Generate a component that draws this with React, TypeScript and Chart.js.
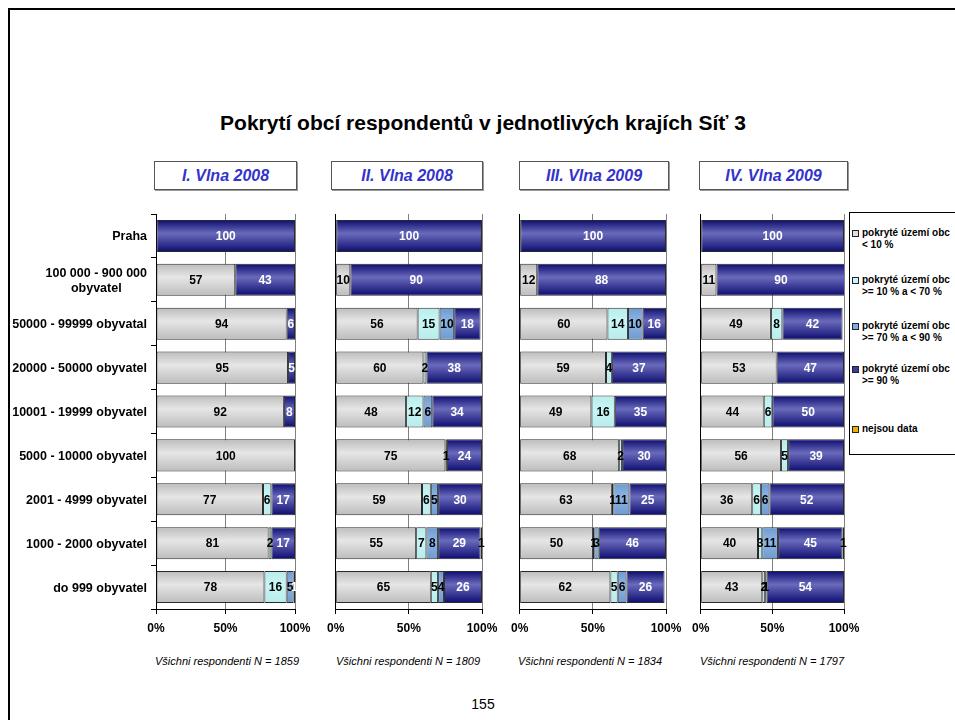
import React, { useEffect, useRef } from 'react';
import { Chart, registerables } from 'chart.js';
Chart.register(...registerables);

const FONT = '"Liberation Sans", Arial, Helvetica, sans-serif';

const mainTitle = 'Pokrytí obcí respondentů v jednotlivých krajích Síť 3';
const pageNumber = '155';

const categories = [
  'Praha',
  '100 000 - 900 000\nobyvatel',
  '50000 - 99999 obyvatal',
  '20000 - 50000 obyvatel',
  '10001 - 19999 obyvatel',
  '5000 - 10000 obyvatel',
  '2001 - 4999 obyvatel',
  '1000 - 2000 obyvatel',
  'do 999 obyvatel',
];

const waveTitles = ['I. Vlna 2008', 'II. Vlna 2008', 'III. Vlna 2009', 'IV. Vlna 2009'];
const respondentsN = [1859, 1809, 1834, 1797];

const legendLabels = [
  ['pokryté území obc', '< 10 %'],
  ['pokryté území obc', '>= 10 % a < 70 %'],
  ['pokryté území obc', '>= 70 % a < 90 %'],
  ['pokryté území obc', '>= 90 %'],
  ['nejsou data'],
];

const xTicks = [0, 50, 100];

// Wave I 2008
const w1Lt10 = [0, 57, 94, 95, 92, 100, 77, 81, 78];
const w1From10 = [0, 0, 0, 0, 0, 0, 6, 2, 16];
const w1From70 = [0, 0, 0, 0, 0, 0, 0, 0, 5];
const w1Ge90 = [100, 43, 6, 5, 8, 0, 17, 17, 1];
const w1NoData = [0, 0, 0, 0, 0, 0, 0, 0, 0];

// Wave II 2008
const w2Lt10 = [0, 10, 56, 60, 48, 75, 59, 55, 65];
const w2From10 = [0, 0, 15, 2, 12, 0, 6, 7, 5];
const w2From70 = [0, 0, 10, 0, 6, 1, 5, 8, 4];
const w2Ge90 = [100, 90, 18, 38, 34, 24, 30, 29, 26];
const w2NoData = [0, 0, 0, 0, 0, 0, 0, 1, 0];

// Wave III 2009
const w3Lt10 = [0, 12, 60, 59, 49, 68, 63, 50, 62];
const w3From10 = [0, 0, 14, 4, 16, 2, 1, 1, 5];
const w3From70 = [0, 0, 10, 0, 0, 0, 11, 3, 6];
const w3Ge90 = [100, 88, 16, 37, 35, 30, 25, 46, 26];
const w3NoData = [0, 0, 0, 0, 0, 0, 0, 0, 0];

// Wave IV 2009
const w4Lt10 = [0, 11, 49, 53, 44, 56, 36, 40, 43];
const w4From10 = [0, 0, 8, 0, 6, 5, 6, 3, 2];
const w4From70 = [0, 0, 0, 0, 0, 0, 6, 11, 1];
const w4Ge90 = [100, 90, 42, 47, 50, 39, 52, 45, 54];
const w4NoData = [0, 0, 0, 0, 0, 0, 0, 1, 0];

const waveSeries = [
  [w1Lt10, w1From10, w1From70, w1Ge90, w1NoData],
  [w2Lt10, w2From10, w2From70, w2Ge90, w2NoData],
  [w3Lt10, w3From10, w3From70, w3Ge90, w3NoData],
  [w4Lt10, w4From10, w4From70, w4Ge90, w4NoData],
];

// colour stops: [edge, centre]
const seriesFill = [
  ['#bcbcbc', '#e6e6e6'],
  ['#b8ecec', '#c8f6f6'],
  ['#6e9ad0', '#8cb6e4'],
  ['#0c0c70', '#6a6abc'],
  ['#700000', '#c02000'],
];
const legendColors = ['#e0e0e0', '#c8f6f6', '#80aee2', '#3a3aa0', '#e8b000'];
const labelColors = ['#000', '#000', '#000', '#fff', '#000'];

const BAR_PCT = 0.73;

function makeFill(si: number) {
  return (ctx: any) => {
    const [edge, mid] = seriesFill[si];
    const chart = ctx.chart;
    const area = chart.chartArea;
    if (!area || ctx.type !== 'data' || !chart.scales.y) return mid;
    const yScale = chart.scales.y;
    const c = yScale.getPixelForValue(ctx.dataIndex);
    const band = (area.bottom - area.top) / categories.length;
    const h = (band * BAR_PCT) / 2;
    const g = chart.ctx.createLinearGradient(0, c - h, 0, c + h);
    g.addColorStop(0, edge);
    g.addColorStop(0.42, mid);
    g.addColorStop(1, edge);
    return g;
  };
}

const valueLabelPlugin = {
  id: 'valueLabels',
  afterDatasetsDraw(chart: any) {
    const ctx = chart.ctx;
    ctx.save();
    ctx.font = `bold 12px ${FONT}`;
    ctx.textAlign = 'center';
    ctx.textBaseline = 'middle';
    chart.data.datasets.forEach((ds: any, di: number) => {
      const meta = chart.getDatasetMeta(di);
      meta.data.forEach((el: any, i: number) => {
        const v = ds.data[i];
        if (!v) return;
        const p = el.getProps(['x', 'y', 'base'], true);
        ctx.fillStyle = labelColors[di];
        ctx.fillText(String(v), (p.x + p.base) / 2, p.y + 1);
      });
    });
    ctx.restore();
  },
};

const categoryLabelPlugin = {
  id: 'categoryLabels',
  afterDraw(chart: any) {
    const ctx = chart.ctx;
    const yScale = chart.scales.y;
    const right = chart.chartArea.left - 9;
    ctx.save();
    ctx.font = `bold 12.5px ${FONT}`;
    ctx.fillStyle = '#000';
    ctx.textBaseline = 'middle';
    ctx.textAlign = 'center';
    categories.forEach((lab, i) => {
      const yc = yScale.getPixelForValue(i);
      const lines = lab.split('\n');
      const mw = Math.max(...lines.map((l) => ctx.measureText(l).width));
      lines.forEach((l, k) => {
        ctx.fillText(l, right - mw / 2, yc + 1 + (k - (lines.length - 1) / 2) * 15);
      });
    });
    ctx.restore();
  },
};

type PanelProps = {
  wave: number;
  left: number;
  width: number;
  yWidth: number;
  showCategories: boolean;
};

function Panel({ wave, left, width, yWidth, showCategories }: PanelProps) {
  const ref = useRef<HTMLCanvasElement>(null);
  useEffect(() => {
    if (!ref.current) return;
    const series = waveSeries[wave];
    const chart = new Chart(ref.current, {
      type: 'bar',
      data: {
        labels: categories.map((c) => c.replace('\n', ' ')),
        datasets: series.map((d, si) => ({
          label: legendLabels[si].join(' '),
          data: d,
          backgroundColor: makeFill(si),
          borderColor: '#2a2a2a',
          borderWidth: 1,
          borderSkipped: false,
          categoryPercentage: 1,
          barPercentage: BAR_PCT,
        })),
      },
      options: {
        animation: false,
        responsive: false,
        indexAxis: 'y',
        layout: { padding: { top: 14, right: 25, left: 0, bottom: 0 } },
        plugins: {
          legend: { display: false },
          tooltip: { enabled: false },
          title: { display: false },
        },
        scales: {
          x: {
            stacked: true,
            min: 0,
            max: 100,
            afterBuildTicks: (s: any) => {
              s.ticks = xTicks.map((v) => ({ value: v }));
            },
            ticks: {
              callback: (v: any) => v + '%',
              font: { family: FONT, size: 12, weight: 'bold' },
              color: '#000',
              padding: 7,
              maxRotation: 0,
              autoSkip: false,
            },
            grid: { color: '#808080', tickColor: '#000', tickLength: 5, lineWidth: 1 },
            border: { color: '#000', width: 1 },
            afterFit: (s: any) => {
              s.height = 31;
            },
          },
          y: {
            stacked: true,
            offset: true,
            ticks: { display: false },
            grid: {
              display: showCategories,
              drawOnChartArea: false,
              offset: true,
              tickLength: 5,
              color: '#000',
            },
            border: { display: true, color: '#000', width: 1 },
            afterFit: (s: any) => {
              s.width = yWidth;
            },
          },
        },
      } as any,
      plugins: showCategories ? [valueLabelPlugin, categoryLabelPlugin] : [valueLabelPlugin],
    });
    return () => chart.destroy();
  }, [wave, yWidth, showCategories]);
  return (
    <canvas
      ref={ref}
      width={width}
      height={440}
      style={{ position: 'absolute', left, top: 200, width, height: 440 }}
    />
  );
}

const panels = [
  { left: 0, width: 320, yWidth: 156, showCategories: true, box: [154, 143], note: 227 },
  { left: 320, width: 187, yWidth: 12, showCategories: false, box: [331, 152], note: 408 },
  { left: 504, width: 187, yWidth: 12, showCategories: false, box: [519, 150], note: 590 },
  { left: 685, width: 184, yWidth: 12, showCategories: false, box: [699, 149], note: 772 },
];

const legendTops = [227, 274, 320, 363, 423];

export default function App() {
  return (
    <div
      style={{
        position: 'fixed',
        left: 0,
        top: 0,
        width: 955,
        height: 720,
        overflow: 'hidden',
        background: '#fff',
        fontFamily: FONT,
        color: '#000',
      }}
    >
      <div
        style={{
          position: 'absolute',
          left: 8,
          top: 8,
          width: 1200,
          height: 1200,
          borderLeft: '2px solid #000',
          borderTop: '2px solid #000',
        }}
      />
      <div
        style={{
          position: 'absolute',
          left: 83,
          top: 110,
          width: 800,
          textAlign: 'center',
          fontWeight: 'bold',
          fontSize: 21,
          lineHeight: '26px',
        }}
      >
        {mainTitle}
      </div>
      {panels.map((p, i) => (
        <div
          key={'t' + i}
          style={{
            position: 'absolute',
            left: p.box[0],
            top: 161,
            width: p.box[1],
            height: 29,
            boxSizing: 'border-box',
            border: '1px solid #555',
            boxShadow: '1px 1px 0 #999',
            textAlign: 'center',
            lineHeight: '27px',
            color: '#3333cc',
            fontWeight: 'bold',
            fontStyle: 'italic',
            fontSize: 16,
          }}
        >
          {waveTitles[i]}
        </div>
      ))}
      {panels.map((p, i) => (
        <Panel
          key={'p' + i}
          wave={i}
          left={p.left}
          width={p.width}
          yWidth={p.yWidth}
          showCategories={p.showCategories}
        />
      ))}
      {panels.map((p, i) => (
        <div
          key={'n' + i}
          style={{
            position: 'absolute',
            left: p.note - 100,
            top: 654,
            width: 200,
            textAlign: 'center',
            fontStyle: 'italic',
            fontSize: 11,
            lineHeight: '14px',
          }}
        >
          {`Všichni respondenti N = ${respondentsN[i]}`}
        </div>
      ))}
      <div
        style={{
          position: 'absolute',
          left: 849,
          top: 212,
          width: 150,
          height: 243,
          boxSizing: 'border-box',
          border: '1px solid #000',
          background: '#fff',
        }}
      />
      {legendLabels.map((lines, i) => (
        <div key={'l' + i}>
          <div
            style={{
              position: 'absolute',
              left: 852,
              top: legendTops[i] + 3,
              width: 7,
              height: 7,
              boxSizing: 'border-box',
              border: '1px solid #222',
              background: legendColors[i],
            }}
          />
          <div
            style={{
              position: 'absolute',
              left: 862,
              top: legendTops[i],
              whiteSpace: 'nowrap',
              fontWeight: 'bold',
              fontSize: 10,
              lineHeight: '12px',
            }}
          >
            {lines.map((l, k) => (
              <div key={k}>{l}</div>
            ))}
          </div>
        </div>
      ))}
      <div
        style={{
          position: 'absolute',
          left: 383,
          top: 696,
          width: 200,
          textAlign: 'center',
          fontSize: 14,
          lineHeight: '16px',
        }}
      >
        {pageNumber}
      </div>
    </div>
  );
}
